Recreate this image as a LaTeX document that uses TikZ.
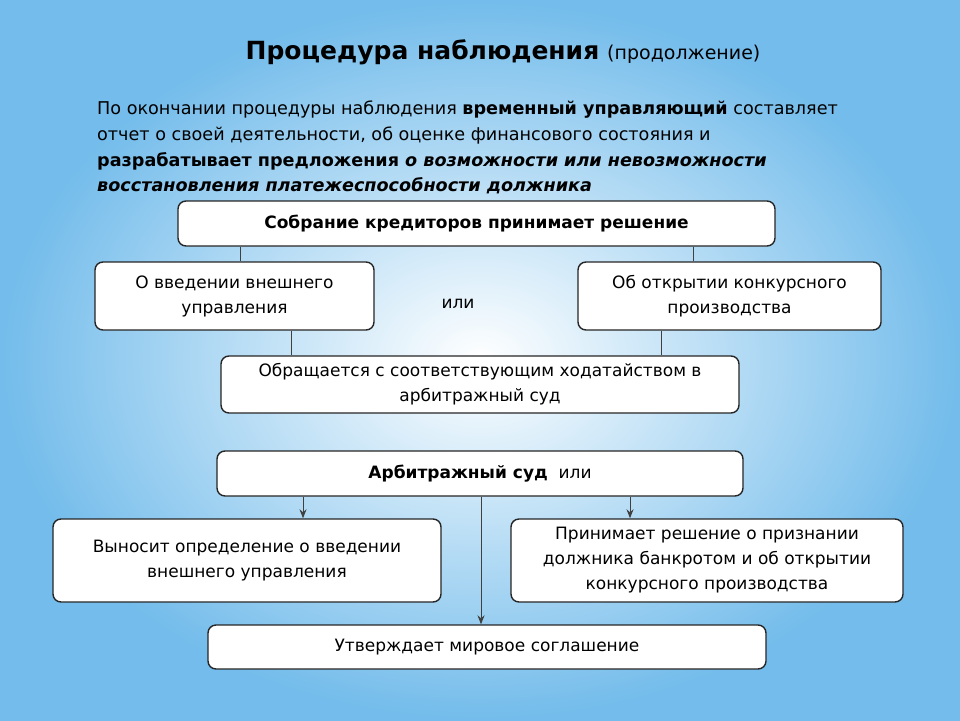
\documentclass[tikz,border=0pt]{standalone}
\usepackage{fontspec}
\setmainfont{DejaVu Sans}
\usetikzlibrary{arrows.meta}
\definecolor{bgout}{RGB}{115,188,235}
\begin{document}
\begin{tikzpicture}[x=1pt,y=-1pt,
  bx/.style={draw=black!85,line width=1.4pt,rounded corners=8pt,fill=white,inner sep=0pt,font=\fontsize{17}{25}\selectfont,align=center},
  ln/.style={draw=black!75,line width=1pt},
  ar/.style={ln,-{Stealth[length=9pt,width=7pt]}}]
\useasboundingbox (0,0) rectangle (960,720);
\shade[inner color=white,outer color=bgout] (0,0) rectangle (960,720);
\node[anchor=center,font=\fontsize{25}{30}\selectfont] (title) at (503,52) {\textbf{Процедура наблюдения} {\fontsize{19}{22}\selectfont(продолжение)}};
\node[anchor=north west,align=left,inner sep=0pt,font=\fontsize{17.6}{25.7}\selectfont] (para) at (97,101) {По окончании процедуры наблюдения \textbf{временный управляющий} составляет\\отчет о своей деятельности, об оценке финансового состояния и\\\textbf{разрабатывает предложения \textit{о возможности или невозможности}}\\\textbf{\textit{восстановления платежеспособности должника}}};
\node[bx,minimum width=597,minimum height=45] (b1) at (476.5,223.5) {\textbf{Собрание кредиторов принимает решение}};
\node[bx,minimum width=279,minimum height=68] (b2) at (234.5,296) {О введении внешнего\\управления};
\node[bx,minimum width=303,minimum height=68] (b3) at (729.5,296) {Об открытии конкурсного\\производства};
\node[font=\fontsize{17}{20}\selectfont] (or) at (458,304) {или};
\node[bx,minimum width=518,minimum height=57] (b4) at (480,384.5) {Обращается с соответствующим ходатайством в\\арбитражный суд};
\node[bx,minimum width=526,minimum height=45] (b5) at (480,473.5) {\textbf{Арбитражный суд}\ \ или};
\node[bx,minimum width=388,minimum height=83] (b6) at (247,560.5) {Выносит определение о введении\\внешнего управления};
\node[bx,minimum width=392,minimum height=83] (b7) at (707,560.5) {Принимает решение о признании\\должника банкротом и об открытии\\конкурсного производства};
\node[bx,minimum width=558,minimum height=44] (b8) at (487,647) {Утверждает мировое соглашение};
\draw[ln] (b1.south -| 240,0) -- (b2.north -| 240,0);
\draw[ln] (b1.south -| 693,0) -- (b3.north -| 693,0);
\draw[ln] (b2.south -| 291,0) -- (b4.north -| 291,0);
\draw[ln] (b3.south -| 661,0) -- (b4.north -| 661,0);
\draw[ar] (b5.south -| 303,0) -- (b6.north -| 303,0);
\draw[ar] (b5.south -| 630,0) -- (b7.north -| 630,0);
\draw[ar] (b5.south -| 481,0) -- (b8.north -| 481,0);
\end{tikzpicture}
\end{document}
